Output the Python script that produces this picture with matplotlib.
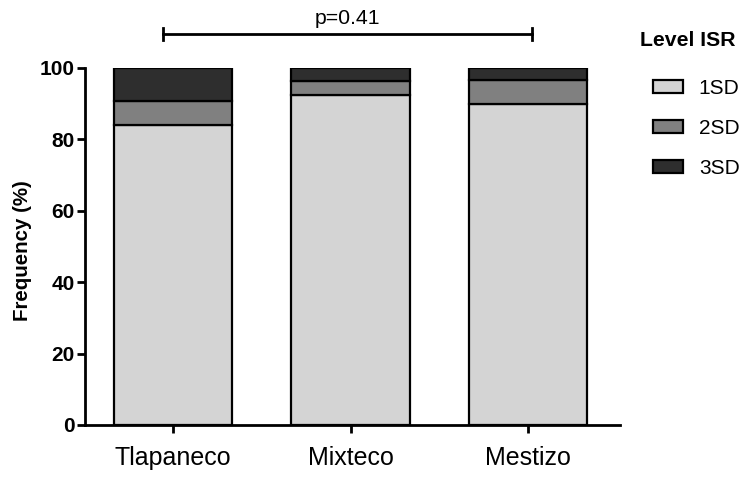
import matplotlib
matplotlib.use("Agg")
import matplotlib.pyplot as plt
import numpy as np

plt.rcParams['font.family'] = ['Liberation Sans', 'DejaVu Sans']

categories = ["Tlapaneco", "Mixteco", "Mestizo"]
levels = ["1SD", "2SD", "3SD"]
sd1 = [84.0, 92.4, 89.9]
sd2 = [6.8, 4.0, 6.7]
sd3 = [9.2, 3.6, 3.4]
colors = ["#d4d4d4", "#808080", "#2e2e2e"]
yticks = [0, 20, 40, 60, 80, 100]
p_text = "p=0.41"
legend_title = "Level ISR"

W, H = 749, 478
fig = plt.figure(figsize=(W / 100, H / 100), dpi=100)
ax = fig.add_axes([0.113, 0.111, 0.715, 0.747])

x = np.arange(len(categories))
bottom = np.zeros(len(categories))
for vals, col, lab in zip([sd1, sd2, sd3], colors, levels):
    ax.bar(x, vals, width=0.667, bottom=bottom, color=col, edgecolor="black",
           linewidth=1.6, label=lab, zorder=3)
    bottom += np.array(vals)

ax.set_xlim(-0.5, 2.52)
ax.set_ylim(0, 100)
ax.set_xticks(x)
ax.set_xticklabels(categories, fontsize=18)
ax.set_yticks(yticks)
ax.set_yticklabels([str(v) for v in yticks], fontsize=15, fontweight="bold")
ax.set_ylabel("Frequency (%)", fontsize=14.8, fontweight="bold")
ax.yaxis.set_label_coords(-0.099, 0.487)

for s in ["top", "right"]:
    ax.spines[s].set_visible(False)
for s in ["left", "bottom"]:
    ax.spines[s].set_linewidth(2)
ax.tick_params(axis="both", direction="out", length=6, width=2)
ax.tick_params(axis="y", pad=1)
ax.tick_params(axis="x", pad=9)

# significance bracket
yb = 109.5
ax.plot([-0.06, 2.02], [yb, yb], color="black", lw=2, clip_on=False)
for xe in [-0.06, 2.02]:
    ax.plot([xe, xe], [yb - 1.8, yb + 1.8], color="black", lw=2, clip_on=False)
ax.text(0.98, yb + 1.8, p_text, ha="center", va="bottom", fontsize=15.3, clip_on=False)

leg = ax.legend(loc="upper left", bbox_to_anchor=(653 / W, 1 - 79 / H),
                bbox_transform=fig.transFigure,
                frameon=False, fontsize=15,
                handlelength=1.45, handleheight=0.55, handletextpad=0.75, labelspacing=1.0,
                borderaxespad=0, borderpad=0)
fig.text(640 / W, 1 - 40 / H, legend_title, fontsize=15.3, fontweight="bold",
         ha="left", va="center")

fig.savefig("out.png", dpi=100)
